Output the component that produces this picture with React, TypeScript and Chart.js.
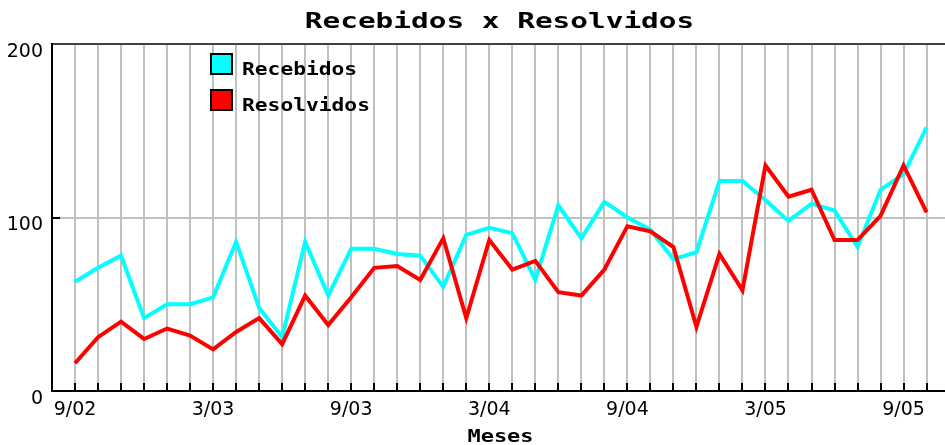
import React, { useEffect, useRef } from "react";
import { Chart, registerables } from "chart.js";

Chart.register(...registerables);

const months = [
  "9/02", "10/02", "11/02", "12/02", "1/03", "2/03", "3/03", "4/03", "5/03", "6/03", "7/03", "8/03",
  "9/03", "10/03", "11/03", "12/03", "1/04", "2/04", "3/04", "4/04", "5/04", "6/04", "7/04", "8/04",
  "9/04", "10/04", "11/04", "12/04", "1/05", "2/05", "3/05", "4/05", "5/05", "6/05", "7/05", "8/05",
  "9/05", "10/05",
];

const recebidos = [
  63, 71, 78, 42, 50, 50, 54, 86, 48, 31, 86, 55,
  82, 82, 79, 78, 60, 90, 94, 91, 64, 107, 88, 109,
  100, 93, 76, 80, 121, 121, 110, 98, 108, 104, 83, 116,
  125, 152,
];

const resolvidos = [
  16, 31, 40, 30, 36, 32, 24, 34, 42, 27, 55, 38,
  54, 71, 72, 64, 88, 42, 87, 70, 75, 57, 55, 70,
  95, 92, 83, 37, 79, 58, 130, 112, 116, 87, 87, 101,
  130, 103,
];

const seriesNames = ["Recebidos", "Resolvidos"];
const seriesColors = ["#00ffff", "#ff0000"];
const yTicks = [0, 100, 200];
const titleText = "Recebidos x Resolvidos";
const xTitle = "Meses";

function drawWide(ctx: CanvasRenderingContext2D, text: string, x: number, y: number, font: string, sx: number, align: CanvasTextAlign) {
  ctx.save();
  ctx.translate(x, y);
  ctx.scale(sx, 1);
  ctx.font = font;
  ctx.fillStyle = "#000";
  ctx.textAlign = align;
  ctx.textBaseline = "alphabetic";
  ctx.fillText(text, 0, 0);
  ctx.restore();
}

const overlay = {
  id: "overlay",
  afterDraw(chart: any) {
    const { ctx, chartArea, scales } = chart;
    const xs = scales.x;
    const ys = scales.y;
    ctx.save();
    ctx.strokeStyle = "#000";
    ctx.lineWidth = 2;
    months.forEach((_, i) => {
      const px = Math.round(xs.getPixelForValue(i));
      ctx.beginPath();
      ctx.moveTo(px, chartArea.bottom);
      ctx.lineTo(px, chartArea.bottom - 8);
      ctx.stroke();
    });
    const py = Math.round(ys.getPixelForValue(yTicks[1]));
    ctx.beginPath();
    ctx.moveTo(chartArea.left, py);
    ctx.lineTo(chartArea.left + 8, py);
    ctx.stroke();
    ctx.restore();

    const cx = (chartArea.left + chartArea.right) / 2;
    drawWide(ctx, titleText, cx + 1, 28, 'bold 21px "DejaVu Sans Mono"', 1.4, "center");
    drawWide(ctx, xTitle, cx + 2, 442, 'bold 18px "DejaVu Sans Mono"', 1.22, "center");

    seriesNames.forEach((name, i) => {
      const bx = chartArea.left + 159;
      const by = chartArea.top + 10 + i * 36;
      ctx.save();
      ctx.fillStyle = seriesColors[i];
      ctx.fillRect(bx, by, 21, 20);
      ctx.strokeStyle = "#000";
      ctx.lineWidth = 2;
      ctx.strokeRect(bx, by, 21, 20);
      ctx.restore();
      drawWide(ctx, name, bx + 31, by + 21, 'bold 17px "DejaVu Sans Mono"', 1.25, "left");
    });
  },
};

export default function App() {
  const ref = useRef<HTMLCanvasElement | null>(null);
  useEffect(() => {
    if (!ref.current) return;
    Chart.defaults.font.family = "DejaVu Sans";
    const chart = new Chart(ref.current, {
      type: "line",
      data: {
        datasets: [
          {
            label: seriesNames[0],
            data: recebidos.map((v, i) => ({ x: i, y: v })),
            borderColor: seriesColors[0],
            backgroundColor: seriesColors[0],
            borderWidth: 4,
            pointRadius: 0,
            tension: 0,
            order: 1,
          },
          {
            label: seriesNames[1],
            data: resolvidos.map((v, i) => ({ x: i, y: v })),
            borderColor: seriesColors[1],
            backgroundColor: seriesColors[1],
            borderWidth: 4,
            pointRadius: 0,
            tension: 0,
            order: 0,
          },
        ],
      },
      options: {
        responsive: false,
        animation: false,
        devicePixelRatio: 1,
        layout: { padding: { top: 44, right: 0, left: 0, bottom: 0 } },
        plugins: {
          legend: { display: false },
          title: { display: false },
          tooltip: { enabled: false },
        },
        scales: {
          x: {
            type: "linear",
            min: -1,
            max: 37.8,
            afterBuildTicks: (scale: any) => {
              scale.ticks = months.map((_, i) => ({ value: i }));
            },
            afterFit: (scale: any) => {
              scale.height = 54;
            },
            grid: {
              color: "#c0c0c0",
              lineWidth: 2,
              drawTicks: false,
            },
            border: { color: "#000", width: 2 },
            ticks: {
              autoSkip: false,
              maxRotation: 0,
              padding: 8,
              color: "#000",
              font: { size: 19, family: "DejaVu Sans" },
              callback: (_v: any, index: number) => (index % 6 === 0 ? months[index] : ""),
            },
          },
          y: {
            min: yTicks[0],
            max: yTicks[2],
            afterFit: (scale: any) => {
              scale.width = 52;
            },
            grid: {
              color: (c: any) => (c.tick && c.tick.value === yTicks[2] ? "#404040" : c.tick && c.tick.value === yTicks[1] ? "#c0c0c0" : "rgba(0,0,0,0)"),
              lineWidth: 2,
              drawTicks: false,
            },
            border: { color: "#000", width: 2 },
            ticks: {
              stepSize: 100,
              padding: 9,
              labelOffset: 8,
              color: "#000",
              font: { size: 19, family: "DejaVu Sans" },
            },
          },
        },
      },
      plugins: [overlay],
    } as any);
    return () => chart.destroy();
  }, []);
  return (
    <div style={{ position: "fixed", left: 0, top: 0, width: 945, height: 445, background: "#fff" }}>
      <canvas ref={ref} width={945} height={445} />
    </div>
  );
}
